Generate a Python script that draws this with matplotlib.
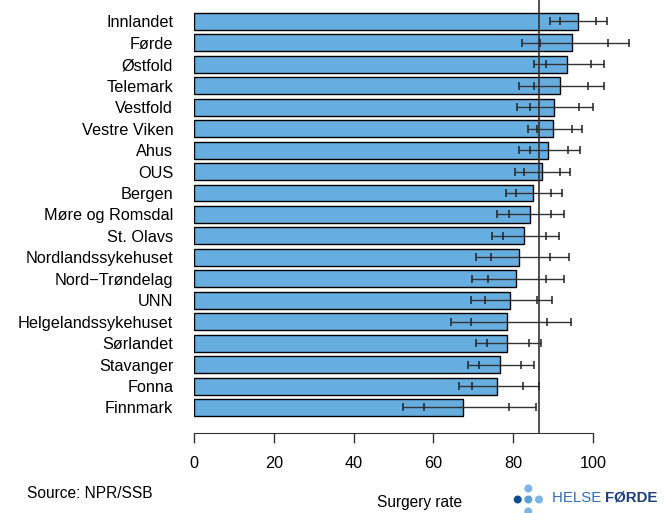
import matplotlib
matplotlib.use("Agg")
from matplotlib import pyplot as plt
from matplotlib.patches import Circle
import numpy as np

plt.rcParams['font.family'] = ['Liberation Sans', 'DejaVu Sans']

units = ["Innlandet", "Førde", "Østfold", "Telemark", "Vestfold", "Vestre Viken",
         "Ahus", "OUS", "Bergen", "Møre og Romsdal", "St. Olavs",
         "Nordlandssykehuset", "Nord\u2212Trøndelag", "UNN", "Helgelandssykehuset",
         "Sørlandet", "Stavanger", "Fonna", "Finnmark"]
rate = [96.2, 94.8, 93.6, 91.7, 90.2, 90.1, 88.8, 87.1, 85.0, 84.1, 82.7,
        81.5, 80.8, 79.2, 78.5, 78.5, 76.6, 75.9, 67.5]
# min / inner low / inner high / max for each unit
low = [89.2, 82.1, 85.1, 81.4, 81.0, 83.6, 81.5, 80.4, 78.1, 76.0, 74.7,
       70.6, 69.7, 69.5, 64.5, 70.6, 68.7, 66.4, 52.5]
q_low = [91.7, 86.6, 88.1, 85.1, 84.3, 85.9, 84.3, 82.8, 80.6, 78.9, 77.5,
         74.4, 73.6, 72.9, 69.3, 73.4, 71.5, 69.7, 57.6]
q_high = [100.8, 103.8, 99.4, 98.7, 96.5, 94.7, 93.8, 91.7, 89.5, 89.5, 88.2,
          89.3, 88.3, 85.9, 88.5, 83.9, 82.0, 82.5, 78.9]
high = [103.5, 108.9, 102.8, 102.8, 100.1, 97.2, 96.7, 94.2, 92.2, 92.7, 91.5,
        93.9, 92.8, 89.8, 94.5, 87.0, 85.1, 86.5, 85.6]
national = 86.5
xticks = [0, 20, 40, 60, 80, 100]

W, H = 669, 513
fig = plt.figure(figsize=(W / 100, H / 100), dpi=100)

left_px, right_px, top_px, bottom_px = 194, 650, 0, 433
ax = fig.add_axes([left_px / W, 1 - bottom_px / H,
                   (right_px - left_px) / W, (bottom_px - top_px) / H])

y = np.arange(len(units))
ax.barh(y, rate, height=0.79, color="#66ADE0", edgecolor="black", linewidth=1.0, zorder=2)
ax.axvline(national, color="#333333", linewidth=1.2, zorder=3)
ax.hlines(y, low, high, color="#333333", linewidth=1.0, zorder=4)
for xs in (low, q_low, q_high, high):
    ax.plot(xs, y, linestyle="none", marker="|", markersize=5.5,
            markeredgewidth=1.1, color="#222222", zorder=5)

ax.set_xlim(0, (right_px - left_px) / 3.99)
ax.set_ylim(19.19, -1.0)

for s in ["top", "right", "left"]:
    ax.spines[s].set_visible(False)
ax.spines["bottom"].set_bounds(0, 100)
ax.spines["bottom"].set_color("#333333")
ax.set_xticks(xticks)
ax.set_xticklabels([str(v) for v in xticks])
ax.tick_params(axis="x", length=7.2, width=1, color="#333333", pad=9, labelsize=11.7)
ax.set_yticks(y)
ax.set_yticklabels(units)
ax.tick_params(axis="y", length=0, pad=15, labelsize=11.7)

# footer texts and logo, drawn in pixel coordinates
over = fig.add_axes([0, 0, 1, 1])
over.set_xlim(0, W)
over.set_ylim(H, 0)
over.axis("off")
over.text(27, 493, "Source: NPR/SSB", fontsize=11.2, ha="left", va="center")
over.text(420, 503, "Surgery rate", fontsize=11.2, ha="center", va="center")
for cx, cy, c in [(517.7, 499.5, "#0b4e96"), (528.3, 499.5, "#5b9fd8"), (539, 499.5, "#7db5e4"),
                  (528.3, 488.5, "#7db5e4"), (528.3, 511.5, "#7db5e4")]:
    over.add_patch(Circle((cx, cy), 4.0, color=c, linewidth=0))
t1 = over.text(551.5, 498, "HELSE ", fontsize=10.8, color="#2f6db5", ha="left", va="center")
fig.canvas.draw()
bb = t1.get_window_extent()
over.text(551.5 + bb.width, 498, "FØRDE", fontsize=10.8, fontweight="bold",
          color="#1b3f80", ha="left", va="center")

fig.savefig("out.png", dpi=100)
